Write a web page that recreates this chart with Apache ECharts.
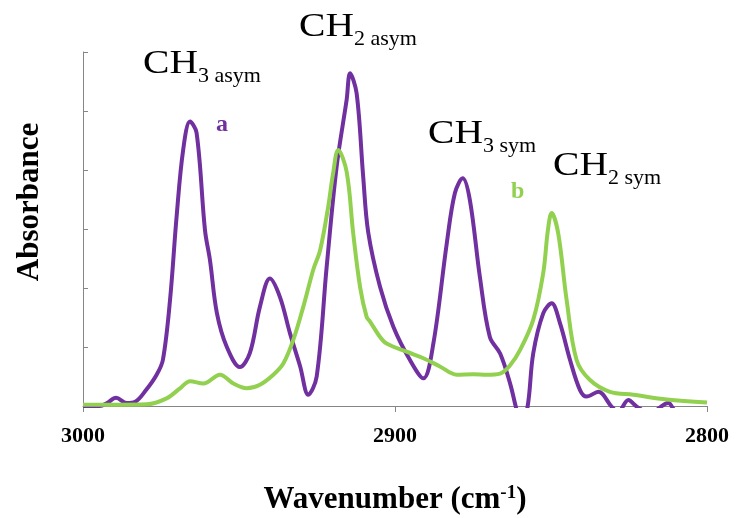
<!DOCTYPE html>
<html>
<head>
<meta charset="utf-8">
<script src="https://cdn.jsdelivr.net/npm/echarts@6/dist/echarts.min.js"></script>
<style>html,body{margin:0;padding:0;background:#fff;}#c{width:737px;height:518px;}</style>
</head>
<body>
<div id="c"></div>
<script>
// Wavenumber (cm-1) and absorbance for spectrum a (purple)
var waveA = [3000, 2994.6, 2992.3, 2989.4, 2986.0, 2983.3, 2979.8, 2976.4, 2974.4, 2972.1, 2970.0, 2967.9, 2965.7, 2963.6, 2960.9, 2959.3, 2957.1, 2953.9, 2949.7, 2946.5, 2943.3, 2940.1, 2936.9, 2933.7, 2930.4, 2927.8, 2925.1, 2921.9, 2918.7, 2915.5, 2914.4, 2912.3, 2910.2, 2908.6, 2904.8, 2900.5, 2895.2, 2890.9, 2887.7, 2883.4, 2880.8, 2878.3, 2876.0, 2872.8, 2869.6, 2866.3, 2863.1, 2861.0, 2859.9, 2857.7, 2855.7, 2852.5, 2849.8, 2847.1, 2843.9, 2840.7, 2838.6, 2834.8, 2830.6, 2828.5, 2825.2, 2822.5, 2818.3, 2812.4, 2810.3, 2805.4, 2800];
var absA = [0.000, 0.000, 0.005, 0.014, 0.005, 0.007, 0.027, 0.053, 0.078, 0.180, 0.321, 0.434, 0.482, 0.463, 0.298, 0.247, 0.158, 0.100, 0.066, 0.090, 0.168, 0.216, 0.185, 0.124, 0.067, 0.019, 0.050, 0.236, 0.406, 0.519, 0.564, 0.530, 0.389, 0.295, 0.202, 0.134, 0.078, 0.047, 0.106, 0.276, 0.361, 0.386, 0.349, 0.219, 0.117, 0.089, 0.038, -0.007, -0.024, -0.007, 0.089, 0.157, 0.174, 0.140, 0.078, 0.027, 0.016, 0.024, -0.001, -0.010, 0.010, -0.001, -0.012, 0.005, -0.007, -0.015, -0.010];
// spectrum b (green)
var waveB = [3000, 2979.6, 2973.2, 2968.9, 2965.7, 2961.4, 2956.1, 2951.8, 2947.5, 2943.3, 2939.0, 2935.8, 2932.6, 2929.4, 2926.2, 2924.0, 2921.4, 2919.9, 2918.2, 2915.5, 2913.4, 2911.2, 2909.1, 2908.0, 2904.8, 2902.7, 2896.3, 2890.9, 2885.6, 2880.2, 2874.9, 2870.6, 2866.3, 2863.1, 2859.9, 2855.7, 2852.5, 2851.0, 2849.8, 2847.7, 2845.0, 2841.8, 2837.5, 2831.1, 2823.6, 2812.9, 2800];
var absB = [0.002, 0.003, 0.013, 0.030, 0.042, 0.038, 0.053, 0.038, 0.030, 0.036, 0.053, 0.072, 0.112, 0.168, 0.231, 0.264, 0.338, 0.392, 0.434, 0.397, 0.293, 0.202, 0.151, 0.143, 0.117, 0.106, 0.092, 0.081, 0.067, 0.053, 0.054, 0.053, 0.055, 0.069, 0.095, 0.146, 0.225, 0.298, 0.327, 0.293, 0.180, 0.078, 0.044, 0.024, 0.019, 0.011, 0.006];
var xTicks = [3000, 2900, 2800];

var SERIF = '"Liberation Serif", "Times New Roman", "DejaVu Serif", serif';
function pairs(xs, ys) { return xs.map(function (x, i) { return [x, ys[i]]; }); }

var chart = echarts.init(document.getElementById('c'), null, {renderer: 'canvas'});

function label(x, y, main, sub, rest) {
  return {
    type: 'group', x: x, y: y,
    children: [
      {type: 'text', x: 0, y: 0, scaleX: 1.2, style: {text: main, font: '33px ' + SERIF, fill: '#000'}},
      {type: 'text', x: 55, y: 17, style: {text: sub + ' ' + rest, font: '22px ' + SERIF, fill: '#000'}}
    ]
  };
}

chart.setOption({
  animation: false,
  backgroundColor: '#fff',
  grid: {left: 83, right: 30, top: 52, bottom: 112, containLabel: false, outerBoundsMode: 'none'},
  xAxis: {
    type: 'value', inverse: true, min: 2800, max: 3000, interval: 100,
    name: 'Wavenumber (cm{sup|-1})', nameLocation: 'middle', nameGap: 78,
    nameTextStyle: {fontFamily: SERIF, fontWeight: 'bold', fontSize: 31, color: '#000',
      rich: {sup: {fontFamily: SERIF, fontWeight: 'bold', fontSize: 19, color: '#000', verticalAlign: 'top', lineHeight: 18}}},
    axisLine: {show: true, lineStyle: {color: '#868686', width: 1}},
    axisTick: {show: true, length: 6, lineStyle: {color: '#868686'}},
    axisLabel: {fontFamily: SERIF, fontWeight: 'bold', fontSize: 22, color: '#000', margin: 19,
      formatter: function (v) { return xTicks.indexOf(v) >= 0 ? String(v) : ''; }},
    splitLine: {show: false}
  },
  yAxis: {
    type: 'value', min: 0, max: 0.6, interval: 0.1,
    axisLine: {show: true, lineStyle: {color: '#868686', width: 1}},
    axisTick: {show: true, inside: true, length: 5, lineStyle: {color: '#868686'}},
    axisLabel: {show: false},
    splitLine: {show: false}
  },
  series: [
    {name: 'a', type: 'line', data: pairs(waveA, absA), smooth: 0.35, symbol: 'none', clip: true,
      lineStyle: {color: '#7030A0', width: 4}},
    {name: 'b', type: 'line', data: pairs(waveB, absB), smooth: 0.35, symbol: 'none', clip: true,
      lineStyle: {color: '#92D050', width: 4}}
  ],
  graphic: [
    label(143, 48, 'CH', '3', 'asym'),
    label(299, 11, 'CH', '2', 'asym'),
    label(428, 118, 'CH', '3', 'sym'),
    label(553, 150, 'CH', '2', 'sym'),
    {type: 'text', x: 30, y: 202, rotation: Math.PI / 2,
      style: {text: 'Absorbance', font: 'bold 31px ' + SERIF, fill: '#000', align: 'center', verticalAlign: 'middle'}},
    {type: 'text', x: 216, y: 113, style: {text: 'a', font: 'bold 24px ' + SERIF, fill: '#7030A0'}},
    {type: 'text', x: 511, y: 180, style: {text: 'b', font: 'bold 24px ' + SERIF, fill: '#92D050'}}
  ]
});
</script>
</body>
</html>
